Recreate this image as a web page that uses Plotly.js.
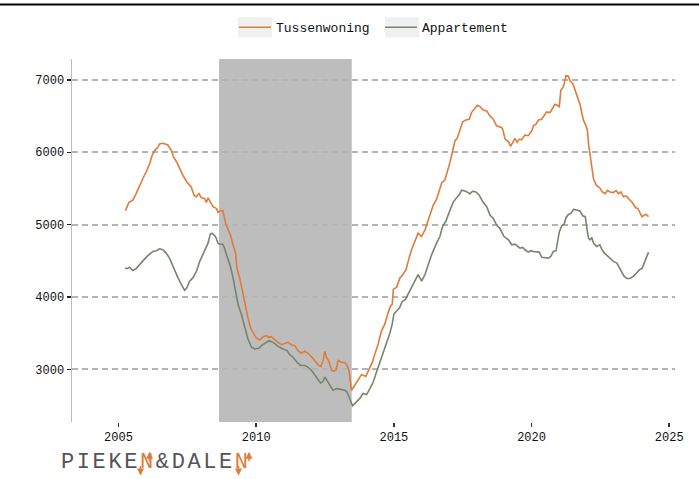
<!DOCTYPE html>
<html>
<head>
<meta charset="utf-8">
<script src="https://cdn.plot.ly/plotly-3.0.1.min.js"></script>
<style>
  html, body { margin: 0; padding: 0; background: #fff; }
  #chart { width: 699px; height: 479px; }
</style>
</head>
<body>
<div id="chart"></div>
<script>
// Gemiddelde vraagprijs per woningtype (euro per m2), maandelijkse reeks
const seriesNames = ["Tussenwoning", "Appartement"];
const seriesColors = ["#e07b39", "#77866a"];

const tussenYears = [
  2005.24, 2005.28, 2005.37, 2005.52, 2005.64, 2005.76, 2005.88, 2006.00, 2006.13, 2006.22,
  2006.31, 2006.43, 2006.49, 2006.61, 2006.79, 2006.92, 2007.00, 2007.10, 2007.22, 2007.34,
  2007.48, 2007.58, 2007.64, 2007.74, 2007.82, 2007.92, 2008.01, 2008.13, 2008.19, 2008.25,
  2008.34, 2008.43, 2008.56, 2008.61, 2008.70, 2008.79, 2008.89, 2008.97, 2009.06, 2009.16,
  2009.25, 2009.30, 2009.40, 2009.50, 2009.59, 2009.70, 2009.79, 2009.88, 2010.00, 2010.13,
  2010.25, 2010.37, 2010.47, 2010.55, 2010.67, 2010.79, 2010.92, 2011.04, 2011.16, 2011.28,
  2011.40, 2011.52, 2011.64, 2011.76, 2011.88, 2012.00, 2012.13, 2012.25, 2012.35, 2012.43,
  2012.49, 2012.55, 2012.65, 2012.74, 2012.82, 2012.89, 2012.98, 2013.10, 2013.22, 2013.30,
  2013.37, 2013.46, 2013.58, 2013.70, 2013.83, 2013.98, 2014.13, 2014.22, 2014.31, 2014.43,
  2014.55, 2014.67, 2014.79, 2014.88, 2014.94, 2014.98, 2015.10, 2015.22, 2015.34, 2015.44,
  2015.52, 2015.64, 2015.76, 2015.88, 2016.00, 2016.13, 2016.25, 2016.43, 2016.55, 2016.65,
  2016.74, 2016.85, 2016.94, 2017.04, 2017.13, 2017.22, 2017.30, 2017.40, 2017.50, 2017.62,
  2017.74, 2017.82, 2017.95, 2018.03, 2018.13, 2018.25, 2018.37, 2018.49, 2018.61, 2018.73,
  2018.91, 2018.95, 2019.04, 2019.16, 2019.24, 2019.34, 2019.40, 2019.48, 2019.56, 2019.64,
  2019.76, 2019.88, 2020.01, 2020.07, 2020.16, 2020.25, 2020.37, 2020.45, 2020.55, 2020.67,
  2020.77, 2020.85, 2020.94, 2021.01, 2021.06, 2021.16, 2021.22, 2021.25, 2021.34, 2021.40,
  2021.50, 2021.58, 2021.67, 2021.76, 2021.83, 2021.88, 2021.98, 2022.03, 2022.07, 2022.13,
  2022.19, 2022.25, 2022.35, 2022.48, 2022.57, 2022.67, 2022.76, 2022.85, 2022.97, 2023.07,
  2023.16, 2023.24, 2023.34, 2023.44, 2023.52, 2023.66, 2023.78, 2023.86, 2023.92, 2024.01,
  2024.09, 2024.16, 2024.25
];
const tussenValues = [
  5196, 5215, 5305, 5338, 5429, 5544, 5634, 5726, 5840, 5955,
  6023, 6068, 6114, 6123, 6100, 6023, 5932, 5872, 5771, 5681,
  5589, 5544, 5520, 5407, 5384, 5429, 5370, 5360, 5305, 5370,
  5305, 5247, 5223, 5168, 5196, 5192, 5018, 4949, 4859, 4722,
  4607, 4401, 4264, 4082, 3900, 3716, 3579, 3511, 3434, 3407,
  3452, 3466, 3443, 3452, 3407, 3374, 3342, 3361, 3374, 3342,
  3329, 3260, 3223, 3251, 3223, 3178, 3123, 3064, 3041, 3123,
  3251, 3169, 3100, 2986, 2977, 2986, 3123, 3100, 3092, 3055,
  2986, 2712, 2781, 2858, 2931, 2904, 3032, 3100, 3215, 3352,
  3534, 3626, 3785, 3877, 3900, 4105, 4137, 4264, 4319, 4379,
  4493, 4653, 4767, 4881, 4836, 4927, 5064, 5270, 5352, 5475,
  5579, 5612, 5726, 5863, 6010, 6160, 6192, 6320, 6420, 6447,
  6456, 6548, 6616, 6648, 6630, 6584, 6571, 6502, 6456, 6365,
  6342, 6320, 6182, 6147, 6082, 6160, 6192, 6137, 6182, 6173,
  6237, 6228, 6297, 6365, 6388, 6447, 6456, 6502, 6557, 6548,
  6616, 6662, 6648, 6630, 6849, 6908, 7004, 7059, 7050, 6982,
  6950, 6849, 6758, 6662, 6525, 6447, 6365, 6297, 6114, 5932,
  5771, 5634, 5544, 5507, 5452, 5429, 5475, 5452, 5443, 5470,
  5429, 5452, 5384, 5397, 5360, 5305, 5233, 5223, 5178, 5110,
  5132, 5141, 5110
];

const appYears = [
  2005.24, 2005.31, 2005.40, 2005.52, 2005.64, 2005.76, 2005.88, 2006.00, 2006.13, 2006.25,
  2006.37, 2006.49, 2006.61, 2006.73, 2006.85, 2006.95, 2007.04, 2007.16, 2007.28, 2007.40,
  2007.48, 2007.58, 2007.70, 2007.83, 2007.95, 2008.07, 2008.16, 2008.25, 2008.33, 2008.39,
  2008.49, 2008.55, 2008.61, 2008.67, 2008.79, 2008.85, 2008.94, 2009.06, 2009.16, 2009.25,
  2009.34, 2009.46, 2009.58, 2009.70, 2009.83, 2009.95, 2010.10, 2010.19, 2010.31, 2010.47,
  2010.61, 2010.73, 2010.85, 2010.97, 2011.12, 2011.22, 2011.34, 2011.48, 2011.61, 2011.76,
  2011.88, 2012.01, 2012.13, 2012.25, 2012.34, 2012.41, 2012.49, 2012.57, 2012.67, 2012.79,
  2012.92, 2013.06, 2013.22, 2013.30, 2013.40, 2013.50, 2013.64, 2013.76, 2013.88, 2014.01,
  2014.13, 2014.25, 2014.37, 2014.49, 2014.61, 2014.73, 2014.85, 2014.94, 2015.00, 2015.10,
  2015.21, 2015.30, 2015.42, 2015.54, 2015.66, 2015.76, 2015.88, 2016.01, 2016.13, 2016.25,
  2016.37, 2016.55, 2016.67, 2016.77, 2016.89, 2017.04, 2017.16, 2017.28, 2017.38, 2017.46,
  2017.58, 2017.70, 2017.76, 2017.86, 2017.98, 2018.10, 2018.23, 2018.37, 2018.49, 2018.61,
  2018.73, 2018.85, 2019.00, 2019.16, 2019.28, 2019.40, 2019.52, 2019.58, 2019.68, 2019.76,
  2019.88, 2019.97, 2020.07, 2020.19, 2020.28, 2020.37, 2020.49, 2020.61, 2020.70, 2020.79,
  2020.89, 2020.94, 2021.01, 2021.10, 2021.18, 2021.25, 2021.34, 2021.43, 2021.52, 2021.64,
  2021.76, 2021.86, 2021.95, 2022.01, 2022.07, 2022.13, 2022.19, 2022.25, 2022.37, 2022.48,
  2022.56, 2022.65, 2022.74, 2022.85, 2022.97, 2023.10, 2023.19, 2023.28, 2023.36, 2023.46,
  2023.58, 2023.71, 2023.83, 2023.92, 2024.01, 2024.09, 2024.19, 2024.25
];
const appValues = [
  4401, 4393, 4411, 4366, 4393, 4448, 4493, 4548, 4593, 4630,
  4640, 4667, 4653, 4607, 4538, 4448, 4356, 4264, 4174, 4092,
  4127, 4219, 4264, 4356, 4493, 4593, 4675, 4744, 4867, 4881,
  4849, 4812, 4744, 4730, 4730, 4675, 4562, 4425, 4264, 4082,
  3900, 3763, 3579, 3421, 3306, 3283, 3292, 3329, 3361, 3397,
  3374, 3338, 3306, 3283, 3260, 3205, 3169, 3100, 3055, 3055,
  3032, 2986, 2918, 2849, 2812, 2826, 2895, 2849, 2781, 2712,
  2735, 2726, 2712, 2689, 2598, 2497, 2552, 2598, 2667, 2653,
  2735, 2826, 2963, 3100, 3215, 3374, 3497, 3626, 3763, 3808,
  3854, 3936, 3968, 4059, 4151, 4219, 4311, 4219, 4311, 4448,
  4585, 4744, 4836, 4973, 5050, 5201, 5315, 5370, 5416, 5475,
  5466, 5443, 5425, 5461, 5452, 5407, 5315, 5247, 5133, 5087,
  4995, 4949, 4836, 4790, 4722, 4730, 4689, 4675, 4685, 4653,
  4621, 4640, 4630, 4630, 4621, 4548, 4538, 4538, 4562, 4630,
  4640, 4767, 4904, 4986, 5004, 5096, 5141, 5155, 5210, 5201,
  5188, 5123, 5110, 4949, 4812, 4790, 4822, 4744, 4699, 4722,
  4653, 4607, 4575, 4538, 4493, 4470, 4401, 4333, 4288, 4256,
  4256, 4288, 4333, 4379, 4393, 4470, 4562, 4621
];

// Kredietcrisis-periode (grijs gearceerd)
const crisisPeriod = [2008.65, 2013.47];

const xTickYears = [2005, 2010, 2015, 2020, 2025];
const yTickValues = [3000, 4000, 5000, 6000, 7000];

const MONO = '"Courier New", "Liberation Mono", monospace';
const ORANGE = seriesColors[0];

// Plotgebied in pixels (voor de omrekening van vaste posities naar paper-coördinaten)
const W = 699, H = 479;
const M = { l: 72, r: 24, t: 56, b: 57 };
const pw = W - M.l - M.r, ph = H - M.t - M.b;
const px = v => (v - M.l) / pw;
const py = v => (H - M.b - v) / ph;

const traces = [
  {
    x: tussenYears, y: tussenValues, name: seriesNames[0],
    type: 'scatter', mode: 'lines',
    line: { color: seriesColors[0], width: 1.6 }
  },
  {
    x: appYears, y: appValues, name: seriesNames[1],
    type: 'scatter', mode: 'lines',
    line: { color: seriesColors[1], width: 1.6 }
  }
];

const shapes = [
  // gearceerde crisisperiode, boven het raster en onder de lijnen
  {
    type: 'rect', xref: 'x', yref: 'paper', layer: 'between',
    x0: crisisPeriod[0], x1: crisisPeriod[1], y0: 0, y1: 1,
    fillcolor: '#bdbdbd', line: { width: 0 }
  },
  // lijn langs de bovenrand
  {
    type: 'line', xref: 'paper', yref: 'paper', layer: 'above',
    x0: px(0), x1: px(W), y0: py(1), y1: py(1),
    line: { color: '#000', width: 2 }
  },
  // grijze vakjes achter de legenda-symbolen
  {
    type: 'rect', xref: 'paper', yref: 'paper', layer: 'below',
    x0: px(238), x1: px(272), y0: py(34), y1: py(14),
    fillcolor: '#f0f0f0', line: { width: 0 }
  },
  {
    type: 'rect', xref: 'paper', yref: 'paper', layer: 'below',
    x0: px(385), x1: px(419), y0: py(34), y1: py(14),
    fillcolor: '#f0f0f0', line: { width: 0 }
  }
];

// pijltjes in de twee N's van het logo
function logoArrow(xPix, headY, dir) {
  return {
    xref: 'paper', yref: 'paper', x: px(xPix), y: py(headY),
    ax: 0, ay: dir === 'up' ? 11 : -11, axref: 'pixel', ayref: 'pixel',
    text: '', showarrow: true, arrowhead: 2, arrowsize: 1, arrowwidth: 1.4,
    arrowcolor: ORANGE
  };
}

const annotations = [
  {
    xref: 'paper', yref: 'paper', x: px(59), y: py(477),
    xanchor: 'left', yanchor: 'bottom', showarrow: false,
    text: '<span style="letter-spacing:2.6px">PIEKE<span style="color:' + ORANGE + '">N</span>&amp;DALE<span style="color:' + ORANGE + '">N</span></span>',
    font: { family: MONO, size: 22, color: '#555555' }
  },
  logoArrow(149.5, 452, 'up'),
  logoArrow(140.5, 476, 'down'),
  logoArrow(249, 452, 'up'),
  logoArrow(238.5, 476, 'down')
];

const layout = {
  width: W, height: H,
  margin: M,
  paper_bgcolor: '#ffffff',
  plot_bgcolor: '#ffffff',
  font: { family: MONO, size: 12, color: '#222222' },
  showlegend: true,
  legend: {
    orientation: 'h',
    x: px(234), xanchor: 'left',
    y: py(24), yanchor: 'middle',
    bgcolor: 'rgba(0,0,0,0)',
    font: { family: MONO, size: 13, color: '#111111' },
    itemwidth: 32,
    entrywidth: 99, entrywidthmode: 'pixels',
    itemclick: false, itemdoubleclick: false
  },
  xaxis: {
    range: [2003.31, 2025.21],
    tickmode: 'array', tickvals: xTickYears, ticktext: xTickYears.map(String),
    ticks: 'outside', ticklen: 4, tickwidth: 1.5, tickcolor: '#333333',
    showgrid: false, showline: false, zeroline: false,
    tickfont: { family: MONO, size: 12, color: '#111111' }
  },
  yaxis: {
    range: [2274, 7288],
    tickmode: 'array', tickvals: yTickValues, ticktext: yTickValues.map(String),
    ticks: 'outside', ticklen: 4, tickwidth: 1.5, tickcolor: '#222222',
    showline: true, linecolor: '#bbbbbb', linewidth: 1.5,
    showgrid: true, gridcolor: '#b4b4b4', gridwidth: 2, griddash: '6px,4px',
    zeroline: false,
    tickfont: { family: MONO, size: 12, color: '#111111' }
  },
  shapes: shapes,
  annotations: annotations
};

Plotly.newPlot('chart', traces, layout, { displayModeBar: false, staticPlot: true });
</script>
</body>
</html>
